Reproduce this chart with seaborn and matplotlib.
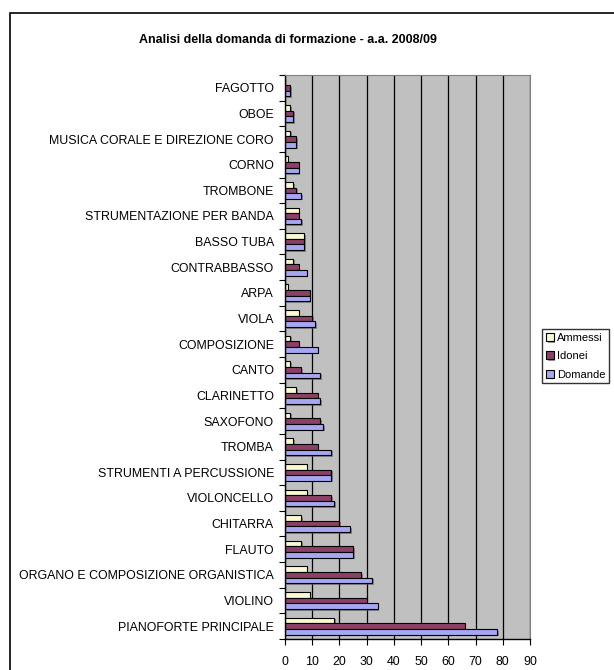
import numpy as np
import pandas as pd
import matplotlib
matplotlib.use('Agg')
import matplotlib.pyplot as plt
import matplotlib.patheffects as pe
from matplotlib.patches import Rectangle
import seaborn as sns

# categories listed top to bottom as in the chart
corsi = [
    'FAGOTTO', 'OBOE', 'MUSICA CORALE E DIREZIONE CORO', 'CORNO', 'TROMBONE',
    'STRUMENTAZIONE PER BANDA', 'BASSO TUBA', 'CONTRABBASSO', 'ARPA', 'VIOLA',
    'COMPOSIZIONE', 'CANTO', 'CLARINETTO', 'SAXOFONO', 'TROMBA',
    'STRUMENTI A PERCUSSIONE', 'VIOLONCELLO', 'CHITARRA', 'FLAUTO',
    'ORGANO E COMPOSIZIONE ORGANISTICA', 'VIOLINO', 'PIANOFORTE PRINCIPALE',
]
ammessi = [0, 2, 2, 1, 3, 5, 7, 3, 1, 5, 2, 2, 4, 2, 3, 8, 8, 6, 6, 8, 9, 18]
idonei = [2, 3, 4, 5, 4, 5, 7, 5, 9, 10, 5, 6, 12, 13, 12, 17, 17, 20, 25, 28, 30, 66]
domande = [2, 3, 4, 5, 6, 6, 7, 8, 9, 11, 12, 13, 13, 14, 17, 17, 18, 24, 25, 32, 34, 78]

serie = ['Ammessi', 'Idonei', 'Domande']
colori = ['#FFFFCC', '#993366', '#9999FF']
x_ticks = list(range(0, 100, 10))

df = pd.DataFrame({'corso': corsi, 'Ammessi': ammessi,
                   'Idonei': idonei, 'Domande': domande})
long_df = df.melt(id_vars='corso', var_name='serie', value_name='valore')

plt.rcParams['font.family'] = ['Liberation Sans', 'DejaVu Sans']

fig = plt.figure(figsize=(6.14, 6.70), dpi=100)
ax = fig.add_axes([285 / 614, 1 - 639 / 670, 245 / 614, (639 - 75) / 670])
ax.set_facecolor('#C0C0C0')

sns.barplot(data=long_df, y='corso', x='valore', hue='serie',
            hue_order=serie, order=corsi, palette=colori, orient='h',
            width=0.66, edgecolor='black', linewidth=0.8, ax=ax)

for p in ax.patches:
    p.set_path_effects([pe.SimplePatchShadow(offset=(1.2, -1.2),
                                             shadow_rgbFace='#555555', alpha=0.6),
                        pe.Normal()])

ax.set_xlim(0, 90)
ax.set_xticks(x_ticks)
ax.set_xticklabels([str(t) for t in x_ticks], fontsize=8.9)
ax.set_ylim(len(corsi) - 0.5, -0.5)
ax.set_yticks(range(len(corsi)))
ax.set_yticklabels(corsi, fontsize=8.9)
ax.tick_params(axis='y', length=0, pad=8)
ax.set_yticks(np.arange(-0.5, len(corsi), 1), minor=True)
ax.tick_params(axis='y', which='minor', length=4, width=0.8, direction='out')
ax.tick_params(axis='x', length=4, width=0.8, direction='out', pad=8)
ax.set_xlabel('')
ax.set_ylabel('')
ax.grid(axis='x', color='black', linewidth=0.9)
ax.set_axisbelow(True)
for side in ['top', 'right']:
    ax.spines[side].set_color('#808080')
    ax.spines[side].set_linewidth(0.8)
for side in ['left', 'bottom']:
    ax.spines[side].set_color('black')
    ax.spines[side].set_linewidth(1.0)

# legend kept fully inside the picture
handles, labels = ax.get_legend_handles_labels()
ax.legend(handles, labels, loc='upper left', bbox_to_anchor=(542 / 614, 1 - 329 / 670),
          bbox_transform=fig.transFigure, fontsize=8, frameon=True, fancybox=False,
          edgecolor='black', handlelength=0.7, handleheight=0.7, handletextpad=0.3,
          borderpad=0.35, labelspacing=0.75, borderaxespad=0)

fig.text(288 / 614, 1 - 40 / 670,
         'Analisi della domanda di formazione - a.a. 2008/09',
         ha='center', va='center', fontsize=9, fontweight='bold')

fig.patches.append(Rectangle((9.5 / 614, -0.05), 1.2, 1 - 13.5 / 670 + 0.05,
                             transform=fig.transFigure, fill=False,
                             edgecolor='black', linewidth=1.2))

fig.savefig('out.png', dpi=100)
